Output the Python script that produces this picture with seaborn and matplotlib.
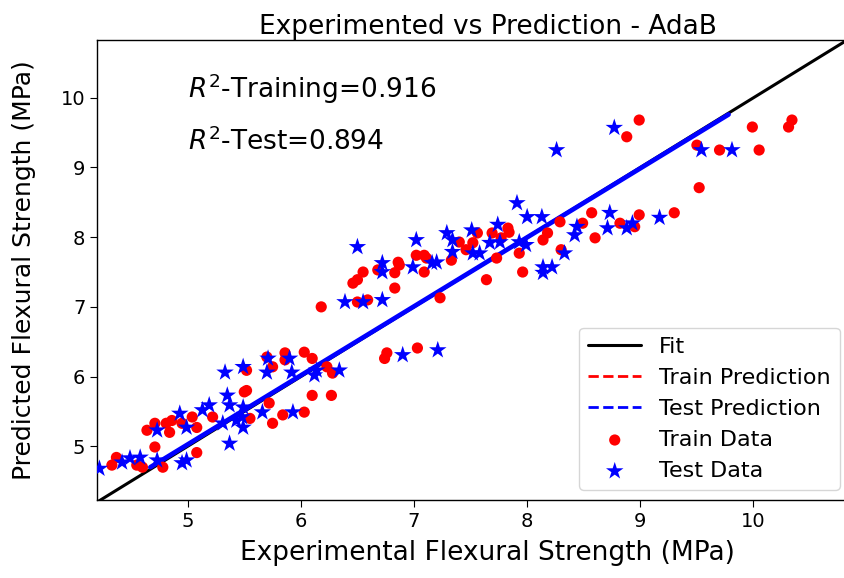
import matplotlib
matplotlib.use("Agg")
import matplotlib.pyplot as plt
import seaborn as sns
from matplotlib.lines import Line2D

# ---- data ----
train_exp = [4.33, 4.37, 4.55, 4.60, 4.78, 4.71, 4.64, 4.71, 4.81, 4.86, 4.84, 4.95, 5.04, 5.08,
             5.22, 5.08, 5.50, 5.72, 5.75, 5.52, 5.70, 5.75, 5.86, 5.86, 6.03, 6.10, 6.23, 6.28,
             5.52, 6.10, 6.27, 5.55, 5.84, 6.03, 6.74, 6.76, 7.03, 6.18, 6.50, 6.59, 6.46, 6.50,
             6.55, 6.68, 6.83, 6.86, 6.87, 6.83, 7.02, 7.09, 7.11, 7.09, 7.23, 7.33, 7.40, 7.52,
             7.46, 7.56, 7.69, 7.83, 7.84, 7.77, 7.73, 7.64, 7.93, 7.96, 8.18, 8.14, 8.29, 8.49,
             8.57, 8.60, 8.30, 8.82, 8.95, 8.99, 9.30, 9.52, 9.50, 9.70, 10.05, 9.99, 10.31,
             10.34, 8.99, 8.88]
train_pred = [4.73, 4.84, 4.73, 4.70, 4.70, 4.99, 5.23, 5.33, 5.33, 5.37, 5.20, 5.33, 5.42, 5.27,
              5.42, 4.91, 5.78, 5.62, 5.33, 6.09, 6.28, 6.14, 6.34, 6.24, 6.35, 6.26, 6.14, 6.05,
              5.80, 5.73, 5.73, 5.40, 5.45, 5.49, 6.26, 6.34, 6.41, 7.00, 7.07, 7.10, 7.34, 7.39,
              7.50, 7.53, 7.49, 7.64, 7.60, 7.27, 7.74, 7.74, 7.70, 7.50, 7.13, 7.67, 7.93, 7.92,
              7.82, 8.06, 8.06, 8.13, 8.07, 7.99, 7.70, 7.39, 7.77, 7.50, 8.06, 7.96, 8.22, 8.20,
              8.35, 7.99, 7.82, 8.20, 8.15, 8.32, 8.35, 8.71, 9.32, 9.25, 9.25, 9.58, 9.58,
              9.68, 9.68, 9.44]

test_exp = [4.22, 4.42, 4.49, 4.58, 4.73, 4.95, 4.99, 4.73, 4.93, 4.99, 5.13, 5.19, 5.31, 5.35,
            5.37, 5.43, 5.49, 5.37, 5.66, 5.93, 5.49, 5.48, 5.33, 5.49, 5.71, 5.70, 5.90, 5.92,
            6.14, 6.12, 6.34, 6.90, 7.21, 6.39, 6.55, 6.72, 6.50, 6.72, 6.72, 6.99, 7.02, 7.16,
            7.20, 7.29, 7.34, 7.34, 7.51, 7.52, 7.58, 7.67, 7.76, 7.74, 7.91, 8.00, 8.13, 7.93,
            7.99, 8.14, 8.22, 8.14, 8.33, 8.44, 8.42, 8.73, 8.71, 8.88, 8.93, 9.17, 8.26, 8.77,
            9.54, 9.81]
test_pred = [4.68, 4.77, 4.83, 4.84, 4.80, 4.76, 4.80, 5.23, 5.47, 5.27, 5.52, 5.59, 5.33, 5.73,
             5.59, 5.37, 5.27, 5.04, 5.49, 5.49, 5.56, 5.42, 6.06, 6.14, 6.26, 6.06, 6.26, 6.06,
             6.09, 6.02, 6.09, 6.31, 6.38, 7.07, 7.07, 7.10, 7.86, 7.63, 7.50, 7.57, 7.96, 7.63,
             7.64, 8.06, 7.96, 7.79, 8.10, 7.77, 7.77, 7.92, 7.93, 8.18, 8.49, 8.29, 8.29, 7.93,
             7.89, 7.57, 7.57, 7.49, 7.77, 8.15, 8.03, 8.35, 8.13, 8.13, 8.20, 8.28, 9.25, 9.57,
             9.25, 9.25]

fit_x = [4.2, 11.1]
fit_y = [4.2, 11.1]
train_line_x = [4.67, 9.78]
train_line_y = [4.70, 9.76]
test_line_x = [4.67, 9.78]
test_line_y = [4.70, 9.76]

r2_train = 0.916
r2_test = 0.894

# ---- plot ----
sns.set_style("ticks")
plt.rcParams['font.family'] = ['DejaVu Sans']
plt.rcParams['text.color'] = 'black'
plt.rcParams['axes.labelcolor'] = 'black'

fig = plt.figure(figsize=(8.45, 5.78), dpi=100)
ax = fig.add_axes([0.115, 0.135, 0.924, 0.796])

sns.lineplot(x=fit_x, y=fit_y, ax=ax, color='black', lw=2.2, label='Fit', zorder=2)
sns.lineplot(x=train_line_x, y=train_line_y, ax=ax, color='red', lw=2.0,
             linestyle='--', label='Train Prediction', zorder=3)
sns.lineplot(x=test_line_x, y=test_line_y, ax=ax, color='blue', lw=3.4,
             label='Test Prediction', zorder=4)

sns.scatterplot(x=train_exp, y=train_pred, ax=ax, color='red', marker='o', s=65,
                edgecolor='none', label='Train Data', zorder=5)
sns.scatterplot(x=test_exp, y=test_pred, ax=ax, color='blue', marker='*', s=175,
                edgecolor='none', label='Test Data', zorder=6)

ax.set_xlim(4.2, 11.1)
ax.set_ylim(4.23, 10.83)
ax.set_xticks([5, 6, 7, 8, 9, 10])
ax.set_yticks([5, 6, 7, 8, 9, 10])
ax.tick_params(labelsize=14, colors='black', direction='out', length=5)
for sp in ax.spines.values():
    sp.set_color('black')
    sp.set_linewidth(1.0)

ax.set_title('Experimented vs Prediction - AdaB', fontsize=19, pad=4)
ax.set_xlabel('Experimental Flexural Strength (MPa)', fontsize=19, labelpad=7)
ax.set_ylabel('Predicted Flexural Strength (MPa)', fontsize=18, labelpad=18)

ax.text(5.0, 10.13, r'$R^2$' + f'-Training={r2_train}', fontsize=19, va='center', ha='left')
ax.text(5.0, 9.37, r'$R^2$' + f'-Test={r2_test}', fontsize=19, va='center', ha='left')

handles, labels = ax.get_legend_handles_labels()
handles[2] = Line2D([], [], color='blue', lw=2.0, linestyle='--')
ax.legend(handles, labels, loc='lower right', bbox_to_anchor=(0.951, 0.022), fontsize=16,
          handlelength=2.4, borderaxespad=0.0)

fig.savefig('out.png', dpi=100)
